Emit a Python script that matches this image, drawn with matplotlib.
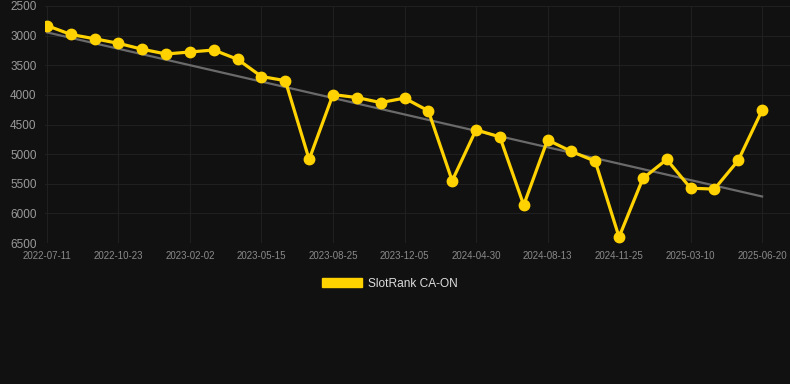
import matplotlib.pyplot as plt
from matplotlib.patches import Patch

# rank values, one per period (category axis)
ranks = [2830, 2980, 3053, 3130, 3230, 3310, 3276, 3243, 3400, 3690, 3760,
         5090, 3995, 4045, 4130, 4055, 4270, 5450, 4590, 4710, 5860,
         4760, 4955, 5120, 6400, 5410, 5090, 5575, 5590, 5105, 4260]
tick_labels = ["2022-07-11", "2022-10-23", "2023-02-02", "2023-05-15",
               "2023-08-25", "2023-12-05", "2024-04-30", "2024-08-13",
               "2024-11-25", "2025-03-10", "2025-06-20"]
trend_start = 2945
trend_end = 5715
series_name = "SlotRank CA-ON"

BG = "#111111"
GOLD = "#FFD200"

plt.rcParams["font.family"] = ["Liberation Sans", "DejaVu Sans"]


def main():
    fig = plt.figure(figsize=(7.9, 3.84), dpi=100, facecolor=BG)
    ax = fig.add_axes([45 / 790, 1 - 243 / 384, 745 / 790, 237 / 384])
    ax.set_facecolor(BG)

    x = list(range(len(ranks)))
    ax.plot([x[0], x[-1]], [trend_start, trend_end], color="#6a6a6a", lw=1.6, zorder=2)
    ax.plot(x, ranks, color=GOLD, lw=2.3, marker="o", markersize=7.5, zorder=3)

    ax.set_ylim(6500, 2500)
    ax.set_yticks(range(2500, 7000, 500))
    ax.set_xlim(-0.08, 31.17)
    ax.set_xticks(x[::3])
    ax.set_xticklabels(tick_labels)

    ax.grid(True, color="#202020", lw=0.8)
    ax.set_axisbelow(True)
    for s in ax.spines.values():
        s.set_visible(False)
    ax.tick_params(axis="y", length=0, pad=6, labelsize=8.5, labelcolor="#9a9a9a")
    ax.tick_params(axis="x", length=0, pad=6, labelsize=7, labelcolor="#8a8a8a")

    fig.legend(handles=[Patch(facecolor=GOLD, edgecolor=GOLD)], labels=[series_name],
               loc="center", bbox_to_anchor=(390 / 790, 1 - 284 / 384),
               frameon=False, fontsize=8.6, labelcolor="#dddddd",
               handlelength=3.3, handleheight=0.8, handletextpad=0.55)

    fig.savefig("out.png", facecolor=BG)


if __name__ == "__main__":
    main()
